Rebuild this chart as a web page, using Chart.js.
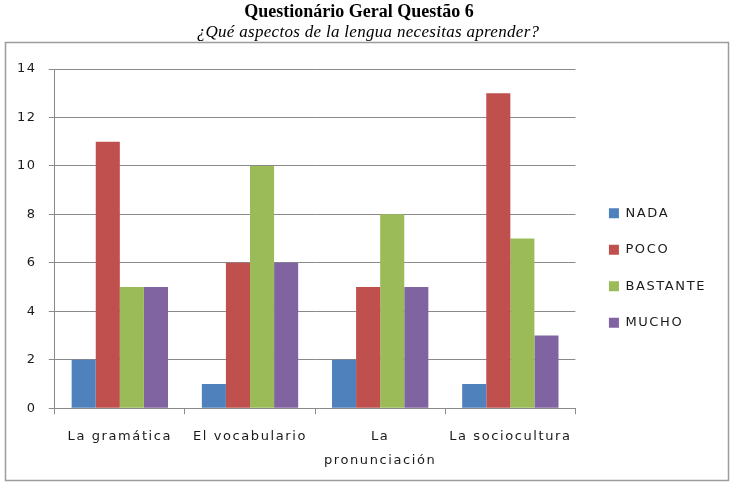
<!DOCTYPE html>
<html>
<head>
<meta charset="utf-8">
<script src="https://cdn.jsdelivr.net/npm/chart.js@4.4.1/dist/chart.umd.min.js"></script>
<style>
    html, body { margin: 0; padding: 0; background: #fff; }
    #wrap { width: 738px; height: 487px; position: relative; }
</style>
</head>
<body>
<div id="wrap"><canvas id="chart"></canvas></div>
<script>
// Chart data
const chartTitle = 'Questionário Geral Questão 6';
const chartSubtitle = '¿Qué aspectos de la lengua necesitas aprender?';
const categories = ['La gramática', 'El vocabulario', ['La', 'pronunciación'], 'La sociocultura'];
const seriesNames = ['NADA', 'POCO', 'BASTANTE', 'MUCHO'];
const nada = [2, 1, 2, 1];
const poco = [11, 6, 5, 13];
const bastante = [5, 10, 8, 7];
const mucho = [5, 6, 5, 3];
const yTicks = [0, 2, 4, 6, 8, 10, 12, 14];

const seriesColors = ['#4F81BD', '#C0504D', '#9BBB59', '#8064A2'];
const gridColor = '#8a8a8a';
const textColor = '#1a1a1a';
const textSpacing = '1.6px';
const labelFont = '"DejaVu Sans"';

// Frame, titles and the wide letter spacing of the original
const frameAndTitles = {
    id: 'frameAndTitles',
    beforeLayout(chart) {
        chart.ctx.letterSpacing = textSpacing;
    },
    afterLayout(chart) {
        // push the legend a little away from the plot
        chart.legend.left += 10;
        chart.legend.right += 10;
        chart.legend.top -= 8;
        chart.legend.bottom -= 8;
    },
    beforeDraw(chart) {
        const ctx = chart.ctx;
        ctx.save();
        ctx.strokeStyle = '#9c9c9c';
        ctx.lineWidth = 1.5;
        ctx.strokeRect(5.5, 42.5, 723, 438);
        ctx.restore();
        ctx.letterSpacing = textSpacing;
    },
    afterDraw(chart) {
        const ctx = chart.ctx;
        ctx.save();
        ctx.letterSpacing = '0px';
        ctx.fillStyle = '#000';
        ctx.textAlign = 'center';
        ctx.textBaseline = 'middle';
        ctx.font = 'bold 18px "Liberation Serif"';
        ctx.fillText(chartTitle, 359, 12);
        ctx.letterSpacing = '0.3px';
        ctx.font = 'italic 17px "Liberation Serif"';
        ctx.fillText(chartSubtitle, 368, 33);
        ctx.restore();
    }
};

const seriesData = [nada, poco, bastante, mucho];

new Chart(document.getElementById('chart').getContext('2d'), {
    type: 'bar',
    data: {
        labels: categories,
        datasets: seriesNames.map((name, i) => ({
            label: name,
            data: seriesData[i],
            backgroundColor: seriesColors[i],
            borderWidth: 0,
            barPercentage: 1,
            categoryPercentage: 0.74
        }))
    },
    options: {
        responsive: true,
        maintainAspectRatio: false,
        animation: false,
        layout: {
            padding: { top: 69, left: 5, right: 32, bottom: 4 }
        },
        plugins: {
            title: { display: false },
            tooltip: { enabled: false },
            legend: {
                position: 'right',
                labels: {
                    boxWidth: 10,
                    boxHeight: 10,
                    padding: 23.5,
                    color: textColor,
                    font: { family: labelFont, size: 13 }
                }
            }
        },
        scales: {
            x: {
                grid: {
                    display: true,
                    drawOnChartArea: false,
                    drawTicks: true,
                    tickLength: 6,
                    color: gridColor,
                    offset: true
                },
                border: { display: true, color: gridColor },
                ticks: {
                    color: textColor,
                    padding: 11,
                    maxRotation: 0,
                    autoSkip: false,
                    font: { family: labelFont, size: 13, lineHeight: 1.8 }
                }
            },
            y: {
                min: 0,
                max: 14,
                afterBuildTicks: scale => {
                    scale.ticks = yTicks.map(v => ({ value: v }));
                },
                grid: {
                    color: gridColor,
                    tickLength: 6,
                    drawTicks: true
                },
                border: { display: true, color: gridColor },
                ticks: {
                    color: textColor,
                    padding: 12,
                    font: { family: labelFont, size: 13 }
                }
            }
        }
    },
    plugins: [frameAndTitles]
});
</script>
</body>
</html>
